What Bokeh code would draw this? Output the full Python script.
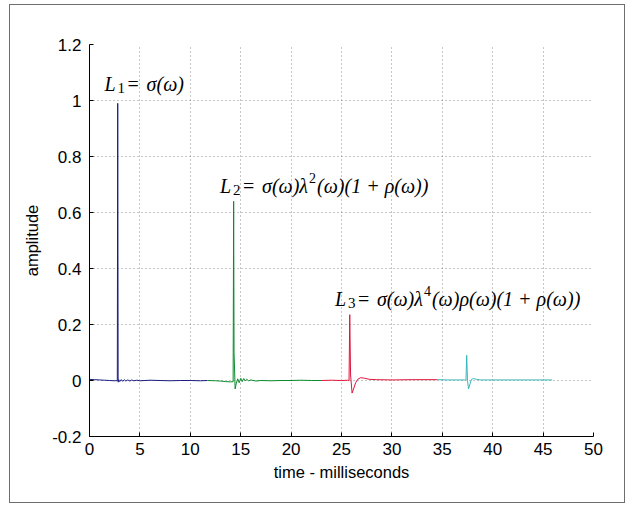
from bokeh.plotting import figure
from bokeh.models import FixedTicker, Label
from bokeh.embed import file_html
from bokeh.resources import INLINE

# ---- data ----
blue_t = [0.0, 0.5, 1.0, 1.5, 2.0, 2.5, 2.76, 2.8, 2.84, 2.9, 3.0, 3.15, 3.3, 3.45, 3.6, 3.8, 4.0, 4.2, 4.4, 4.7, 5.0, 5.5, 6.0, 7.0, 8.0, 9.0, 10.0, 11.0, 11.7]
blue_a = [0.004, 0.003, 0.002, 0.001, 0.0, -0.001, 0.0, 0.99, -0.006, 0.003, -0.004, 0.003, -0.003, 0.003, -0.002, 0.002, -0.002, 0.002, -0.001, 0.001, -0.001, 0.0, 0.001, 0.0, -0.001, 0.0, 0.0, -0.001, 0.0]

green_t = [11.7, 12.5, 13.0, 13.5, 14.0, 14.25, 14.3, 14.34, 14.45, 14.55, 14.7, 14.85, 15.0, 15.15, 15.3, 15.45, 15.6, 15.8, 16.0, 16.5, 17.0, 18.0, 19.0, 20.0, 21.0, 22.0, 23.0]
green_a = [0.0, -0.001, -0.002, -0.004, -0.005, -0.004, 0.64, 0.1, -0.03, -0.012, 0.006, -0.008, 0.008, -0.004, 0.007, -0.002, 0.004, -0.001, 0.002, -0.002, 0.0, -0.001, 0.0, 0.0, 0.001, 0.0, 0.0]

red_t = [23.0, 24.0, 25.0, 25.6, 25.75, 25.82, 25.9, 26.05, 26.2, 26.4, 26.6, 26.9, 27.3, 27.8, 28.5, 30.0, 32.0, 34.5]
red_a = [0.0, 0.001, 0.0, 0.001, 0.0, 0.235, 0.02, -0.045, -0.03, -0.008, 0.004, 0.01, 0.008, 0.004, 0.003, 0.002, 0.003, 0.003]

cyan_t = [34.5, 35.5, 36.5, 37.2, 37.35, 37.42, 37.5, 37.6, 37.75, 37.9, 38.1, 38.4, 38.8, 39.5, 41.0, 43.0, 45.9]
cyan_a = [0.003, 0.002, 0.002, 0.002, 0.002, 0.09, 0.0, -0.03, -0.012, 0.004, 0.007, 0.004, 0.002, 0.002, 0.002, 0.002, 0.002]

x_ticks = [0, 5, 10, 15, 20, 25, 30, 35, 40, 45, 50]
y_ticks = [-0.2, 0, 0.2, 0.4, 0.6, 0.8, 1, 1.2]
y_tick_labels = ["-0.2", "0", "0.2", "0.4", "0.6", "0.8", "1", "1.2"]

labels = [
    # (x, baseline y, subscript, formula head, superscript, formula tail)
    (1.5, 1.058, "1", "σ(ω)", "", ""),
    (12.95, 0.695, "2", "σ(ω)λ", "2", "(ω)(1 + ρ(ω))"),
    (24.35, 0.29, "3", "σ(ω)λ", "4", "(ω)ρ(ω)(1 + ρ(ω))"),
]

p = figure(width=616, height=499, x_range=(0, 50), y_range=(-0.2, 1.2),
           output_backend="svg", toolbar_location=None,
           min_border_left=79, min_border_right=33, min_border_top=39, min_border_bottom=68)
p.styles = {"border": "1px solid #6e6e6e", "margin": "4px 0 0 9px"}
p.outline_line_color = None
p.background_fill_color = "white"
p.border_fill_color = "white"

for ax in (p.xaxis[0], p.yaxis[0]):
    ax.axis_line_color = "black"
    ax.axis_line_width = 1
    ax.major_tick_in = 4
    ax.major_tick_out = 0
    ax.minor_tick_line_color = None
    ax.major_tick_line_color = "black"
    ax.major_label_text_font = "Liberation Sans"
    ax.major_label_text_font_size = "17px"
    ax.major_label_text_color = "black"
    ax.axis_label_text_font = "Liberation Sans"
    ax.axis_label_text_font_size = "16.5px"
    ax.axis_label_text_font_style = "normal"
    ax.axis_label_text_color = "black"

p.xaxis.ticker = FixedTicker(ticks=x_ticks)
p.yaxis.ticker = FixedTicker(ticks=y_ticks)
p.yaxis.major_label_overrides = {v: s for v, s in zip(y_ticks, y_tick_labels)}
p.xaxis.axis_label = "time - milliseconds"
p.yaxis.axis_label = "amplitude"
p.xaxis.major_label_standoff = 6
p.xaxis.axis_label_standoff = 5
p.yaxis.major_label_standoff = 8
p.yaxis.axis_label_standoff = 8

for g in (p.xgrid[0], p.ygrid[0]):
    g.grid_line_color = "#8c8c8c"
    g.grid_line_dash = "1 3"
    g.grid_line_width = 1

p.line(blue_t, blue_a, color="#1c1c80", line_width=1)
p.line(green_t, green_a, color="#0a8a2c", line_width=1)
p.line(red_t, red_a, color="#e0163c", line_width=1)
p.line(cyan_t, cyan_a, color="#36b8bc", line_width=1)

serif = "Liberation Serif"
for x, y, sub, head, sup, tail in labels:
    p.add_layout(Label(x=x, y=y, text="L", text_font=serif, text_font_style="italic",
                       text_font_size="20px", text_baseline="alphabetic", text_color="black"))
    p.add_layout(Label(x=x, y=y, x_offset=13, y_offset=-4, text=sub, text_font=serif,
                       text_font_size="15px", text_baseline="alphabetic", text_color="black"))
    p.add_layout(Label(x=x, y=y, x_offset=23, text="=", text_font=serif,
                       text_font_size="20px", text_baseline="alphabetic", text_color="black"))
    p.add_layout(Label(x=x, y=y, x_offset=42, text=head, text_font=serif,
                       text_font_style="italic", text_font_size="20px", text_baseline="alphabetic",
                       text_color="black"))
    if sup:
        p.add_layout(Label(x=x, y=y, x_offset=89, y_offset=8, text=sup, text_font=serif,
                           text_font_size="14px", text_baseline="alphabetic", text_color="black"))
        p.add_layout(Label(x=x, y=y, x_offset=97, text=tail, text_font=serif,
                           text_font_style="italic", text_font_size="20px",
                           text_baseline="alphabetic", text_color="black"))

open("out.html", "w").write(file_html(p, INLINE))
